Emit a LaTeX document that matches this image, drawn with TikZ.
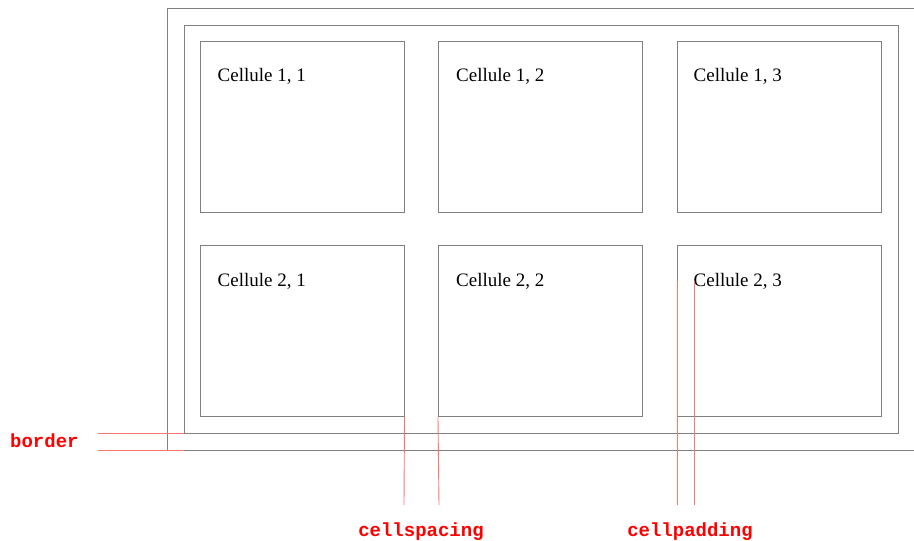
\documentclass[tikz,border=0pt]{standalone}
\usepackage{fontspec}
\setmainfont{Liberation Serif}
\setmonofont{Liberation Mono}
\begin{document}
\begin{tikzpicture}[x=1pt,y=-1pt,
  frame/.style={draw=black!50,line width=1pt},
  cell/.style={draw=black!50,line width=1pt,rectangle,inner sep=0pt,minimum width=204pt,minimum height=171pt},
  celltext/.style={anchor=base west,inner sep=0pt,font=\fontsize{19}{22}\selectfont},
  marker/.style={draw=red!55,line width=0.9pt},
  lbl/.style={text=red,font=\ttfamily\bfseries\fontsize{19}{22}\selectfont,inner sep=0pt}]
\useasboundingbox (0,0) rectangle (914,541);
% outer table border (open on the right)
\draw[frame] (914,8) -- (167,8) -- (167,450) -- (914,450);
% inner border
\draw[frame] (184,25) rectangle (898,433);
% cells
\node[cell] (c11) at (302,126.5) {};
\node[cell] (c12) at (540.5,126.5) {};
\node[cell] (c13) at (779,126.5) {};
\node[cell] (c21) at (302,331) {};
\node[cell] (c22) at (540.5,331) {};
\node[cell] (c23) at (779,331) {};
\node[celltext] (t11) at ([shift={(18,41)}]c11.north west) {Cellule 1, 1};
\node[celltext] (t12) at ([shift={(18,41)}]c12.north west) {Cellule 1, 2};
\node[celltext] (t13) at ([shift={(17,41)}]c13.north west) {Cellule 1, 3};
\node[celltext] (t21) at ([shift={(18,41)}]c21.north west) {Cellule 2, 1};
\node[celltext] (t22) at ([shift={(18,41)}]c22.north west) {Cellule 2, 2};
\node[celltext] (t23) at ([shift={(17,41)}]c23.north west) {Cellule 2, 3};
% labels
\node[lbl,anchor=base west] (lborder) at (10,447) {border};
\node[lbl,anchor=base] (lspacing) at (421,536) {cellspacing};
\node[lbl,anchor=base] (lpadding) at (690,536) {cellpadding};
% marker lines
\coordinate (b1) at (98,433);
\coordinate (b2) at (98,450);
\draw[marker] (b1) -- (184,433);
\draw[marker] (b2) -- (184,450);
\coordinate (s1) at (404,505);
\coordinate (s2) at (439,505);
\draw[marker] (c21.south east) -- (s1);
\draw[marker] (c22.south west) -- (s2);
\coordinate (p1) at (677,505);
\coordinate (p2) at (694,505);
\draw[marker] (677,281) -- (p1);
\draw[marker] (694,281) -- (p2);
\end{tikzpicture}
\end{document}
